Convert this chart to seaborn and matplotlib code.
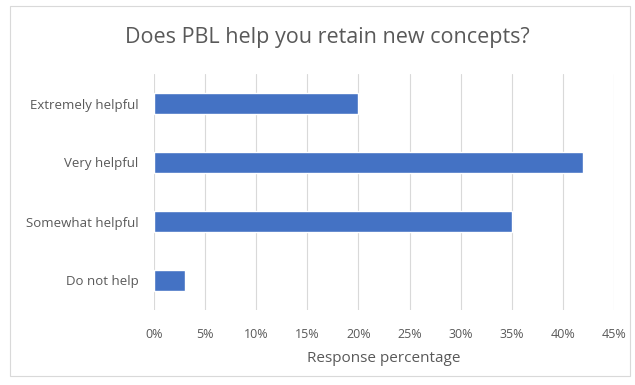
import numpy as np
import pandas as pd
import matplotlib
matplotlib.use("Agg")
import matplotlib.pyplot as plt
import matplotlib.patches as mpatches
from matplotlib.ticker import PercentFormatter
import seaborn as sns

categories = ["Extremely helpful", "Very helpful", "Somewhat helpful", "Do not help"]
percent = [20, 42, 35, 3]

df = pd.DataFrame({"category": categories, "percent": percent})

sns.set_style("white")
plt.rcParams["font.family"] = ["Open Sans", "DejaVu Sans"]

fig = plt.figure(figsize=(6.35, 3.85), dpi=100)
ax = fig.add_axes([154 / 635, 1 - 310 / 385, (614 - 154) / 635, (310 - 74) / 385])

sns.barplot(data=df, x="percent", y="category", order=categories,
            color="#4472C4", width=0.34, saturation=1, ax=ax)

ax.set_xlim(0, 45)
ax.set_xticks(np.arange(0, 46, 5))
ax.xaxis.set_major_formatter(PercentFormatter(decimals=0))
ax.grid(axis="x", color="#D9D9D9", linewidth=0.8)
ax.set_axisbelow(True)
sns.despine(ax=ax, left=True, bottom=True)
ax.tick_params(axis="y", length=0, labelsize=9.5, labelcolor="#595959", pad=11)
ax.tick_params(axis="x", length=0, labelsize=9, labelcolor="#595959", pad=13)
ax.set_ylabel("")
ax.set_xlabel("Response percentage", fontsize=11, color="#595959", labelpad=7)

fig.text(327 / 635, 1 - 38 / 385, "Does PBL help you retain new concepts?",
         ha="center", va="center", fontsize=15.5, color="#595959")

fig.patches.append(mpatches.Rectangle((10 / 635, 1 - 376 / 385), 620 / 635, 370 / 385,
                                      transform=fig.transFigure, fill=False,
                                      edgecolor="#D9D9D9", linewidth=0.8))

plt.savefig("out.png", dpi=100)
